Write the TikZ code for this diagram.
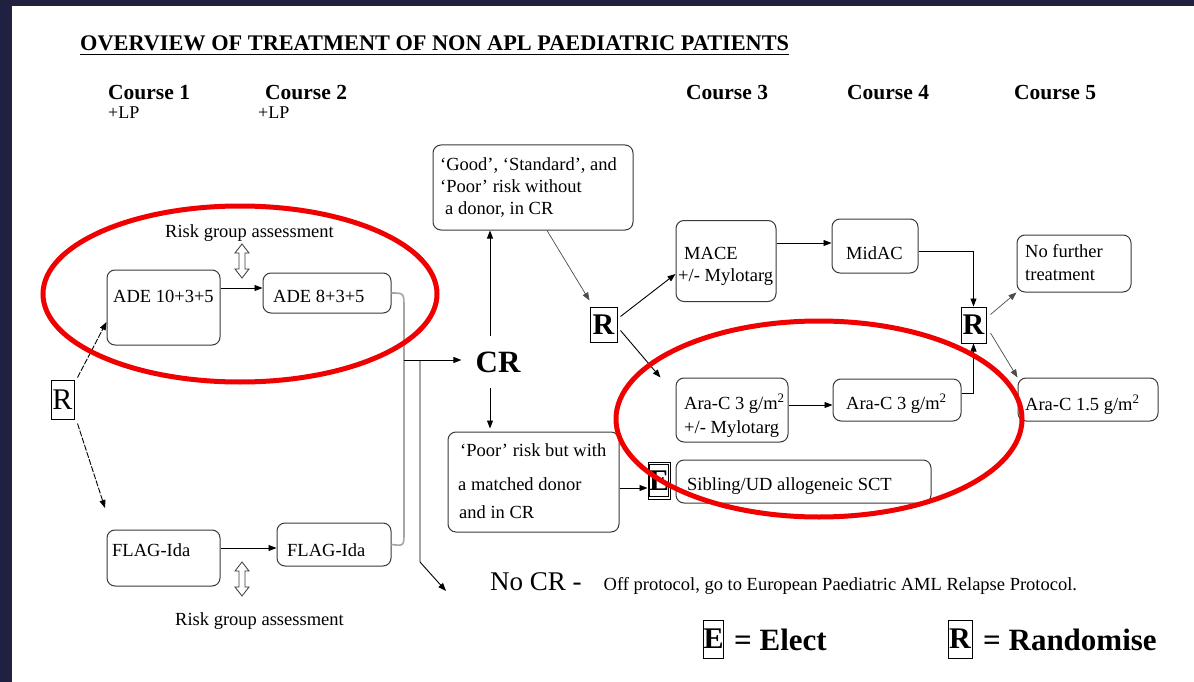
\documentclass[tikz,border=0pt]{standalone}
\usepackage{fontspec}
\setmainfont{Liberation Serif}
\usetikzlibrary{arrows.meta,calc}
\definecolor{navy}{HTML}{202040}
\definecolor{bxline}{HTML}{3A3A3A}
\definecolor{ringred}{HTML}{F00000}
\newcommand{\FS}[2]{\fontsize{#1}{#2}\selectfont}
\begin{document}
\begin{tikzpicture}[x=1pt,y=-1pt,
  box/.style={draw=bxline, line width=1pt, rounded corners=8pt, inner sep=0pt},
  txt/.style={anchor=base west, inner sep=0pt, font=\FS{18.5}{22}},
  crs/.style={anchor=base west, inner sep=0pt, font=\FS{21.5}{24}\bfseries},
  rb/.style={draw=black, line width=1pt, inner sep=0pt, font=\FS{30}{30}\bfseries},
  arr/.style={-{Triangle[length=8pt,width=6pt]}, line width=0.9pt, draw=black},
  thinarr/.style={-{Triangle[length=8pt,width=6pt]}, line width=0.7pt, draw=black!70},
  darr/.style={-{Triangle[length=8pt,width=6pt]}, line width=0.9pt, dash pattern=on 6pt off 1.5pt},
  ring/.style={draw=ringred, line width=5pt},
  dbl/.pic={\draw[draw=bxline, line width=0.8pt, fill=white] (0,-17) -- ++(7,9) -- ++(-4,0) -- ++(0,16) -- ++(4,0) -- ++(-7,9) -- ++(-7,-9) -- ++(4,0) -- ++(0,-16) -- ++(-4,0) -- cycle;}
]
\useasboundingbox (0,0) rectangle (1194,682);
\fill[navy] (0,0) rectangle (1194,682);
\fill[white] (12,6) rectangle (1194,682);

% title and headings
\node[anchor=base west, inner sep=0pt, font=\FS{22.3}{24}\bfseries] (title) at (80,51) {OVERVIEW OF TREATMENT OF NON APL PAEDIATRIC PATIENTS};
\draw[line width=1.8pt] ([yshift=-3.5pt]title.base west) -- ([yshift=-3.5pt]title.base east);
\node[crs] (c1) at (108,100) {Course 1};
\node[crs] (c2) at (265,100) {Course 2};
\node[crs] (c3) at (686,100) {Course 3};
\node[crs] (c4) at (847,100) {Course 4};
\node[crs] (c5) at (1014,100) {Course 5};
\node[txt, font=\FS{18}{20}] (lp1) at (108,119) {+LP};
\node[txt, font=\FS{18}{20}] (lp2) at (258,119) {+LP};

% boxes
\node[box, minimum width=113pt, minimum height=75pt] (ade1) at (163.5,307.5) {};
\node[box, minimum width=128pt, minimum height=40pt] (ade2) at (327,293) {};
\node[box, minimum width=113pt, minimum height=56pt] (flag1) at (163.5,558) {};
\node[box, minimum width=114pt, minimum height=43pt] (flag2) at (334,544.5) {};
\node[box, minimum width=200pt, minimum height=85pt] (good) at (533,187.5) {};
\node[box, minimum width=171pt, minimum height=100pt] (poor) at (533.5,482) {};
\node[box, minimum width=100pt, minimum height=81pt] (mace) at (726,261) {};
\node[box, minimum width=86pt, minimum height=54pt] (midac) at (875,246) {};
\node[box, minimum width=114pt, minimum height=57pt] (nofur) at (1074,263.5) {};
\node[box, minimum width=112pt, minimum height=64pt] (arac1) at (732,410) {};
\node[box, minimum width=128pt, minimum height=42pt] (arac2) at (897,400) {};
\node[box, minimum width=140pt, minimum height=43pt] (arac15) at (1088,399.5) {};
\node[box, minimum width=255pt, minimum height=43pt] (sib) at (803.5,481.5) {};

% box texts
\node[txt] (tade1) at (113,302) {ADE 10+3+5};
\node[txt] (tade2) at (273,302) {ADE 8+3+5};
\node[txt] (tflag1) at (112,556) {FLAG-Ida};
\node[txt] (tflag2) at (287,556) {FLAG-Ida};
\node[txt] (tg1) at (440,171) {`Good', `Standard', and};
\node[txt] (tg2) at (440,193) {`Poor' risk without};
\node[txt] (tg3) at (445,214) {a donor, in CR};
\node[txt] (tp1) at (460,456) {`Poor' risk but with};
\node[txt] (tp2) at (458,490) {a matched donor};
\node[txt] (tp3) at (459,518) {and in CR};
\node[txt] (tm1) at (684,259) {MACE};
\node[txt] (tm2) at (678,281) {+/- Mylotarg};
\node[txt] (tmid) at (846,259) {MidAC};
\node[txt] (tn1) at (1025,257) {No further};
\node[txt] (tn2) at (1025,280) {treatment};
\node[txt] (ta1) at (684,409) {Ara-C 3 g/m\textsuperscript{2}};
\node[txt] (ta1b) at (684,433) {+/- Mylotarg};
\node[txt] (ta2) at (846,409) {Ara-C 3 g/m\textsuperscript{2}};
\node[txt] (ta3) at (1025,410) {Ara-C 1.5 g/m\textsuperscript{2}};
\node[txt] (tsib) at (687,490) {Sibling/UD allogeneic SCT};
\node[txt] (risk1) at (165,237) {Risk group assessment};
\node[txt] (risk2) at (175,625) {Risk group assessment};

% R / E boxes
\node[rb, font=\FS{30}{30}, minimum width=23pt, minimum height=39pt] (rL) at (62.5,399.5) {R};
\node[rb, minimum width=27pt, minimum height=35pt] (rM) at (603.5,324.5) {R};
\node[rb, minimum width=25pt, minimum height=36pt] (rR) at (973.5,325) {R};
\node[rb, minimum width=22pt, minimum height=37pt] (eM) at (659,480.5) {E};
\draw[line width=0.8pt] ([xshift=2pt,yshift=-3pt]eM.north west) rectangle ([xshift=-2pt,yshift=3pt]eM.south east);

% CR
\node[anchor=center, inner xsep=14pt, inner ysep=15pt, font=\FS{31}{31}\bfseries] (cr) at (498,362) {CR};
\node[anchor=base west, inner sep=0pt] (nocr) at (490,590) {{\FS{27}{30}No CR -}\hspace{22pt}{\FS{18.5}{22}Off protocol, go to European Paediatric AML Relapse Protocol.}};

% legend
\node[rb, minimum width=20pt, minimum height=38pt] (lE) at (713.5,639) {E};
\node[anchor=base west, inner sep=0pt, font=\FS{31}{31}\bfseries] (lEt) at (734,650) {= Elect};
\node[rb, minimum width=24pt, minimum height=38pt] (lR) at (960,639) {R};
\node[anchor=base west, inner sep=0pt, font=\FS{31}{31}\bfseries] (lRt) at (983,650) {= Randomise};

% double arrows
\pic at (242,261) {dbl};
\pic at (242,579) {dbl};

% connectors
\coordinate (tipF) at (105,508);
\draw[darr] ([xshift=3pt,yshift=2pt]rL.north east) -- ([yshift=-14.5pt]ade1.west);
\draw[darr] ([xshift=3pt,yshift=-4pt]rL.south east) -- (tipF);
\draw[arr] ([yshift=5pt]ade2.west -| ade1.east) -- ([yshift=5pt]ade2.west);
\draw[arr] ([yshift=-3.5pt]flag2.west -| flag1.east) -- ([yshift=-3.5pt]flag2.west);
\coordinate (brk) at (404,360);
\draw[gray!70, line width=1.6pt] (ade2.east) .. controls (404,293) .. (404,308) -- (404,532) .. controls (404,546) .. (flag2.east);
\draw[arr] (brk) -- (brk -| cr.west);
\coordinate (ncA) at (420,360);
\coordinate (ncB) at (420,562);
\coordinate (ncT) at (446,591);
\draw[arr] (ncA) -- (ncB) -- (ncT);
\draw[arr] ([xshift=-8pt]cr.north) -- ([xshift=-8pt]cr.north |- good.south);
\draw[arr] ([xshift=-8pt]cr.south) -- ([xshift=-8pt,yshift=3pt]cr.south |- poor.north);
\draw[thinarr] ([xshift=14pt]good.south) -- ([yshift=6pt]rM.north west);
\draw[arr] ([xshift=3pt,yshift=8pt]rM.east) -- ([yshift=-13pt]mace.west);
\draw[arr] ([xshift=3pt,yshift=-6pt]rM.east) -- ([xshift=-15pt]arac1.north west);
\draw[arr] ([yshift=3pt]midac.west -| mace.east) -- ([yshift=3pt]midac.west);
\draw[arr] ([yshift=-5pt]midac.east) -| (rR.north);
\draw[arr] ([yshift=-5pt]arac2.west -| arac1.east) -- ([yshift=-5pt]arac2.west);
\draw[arr] ([yshift=7pt]arac2.east) -| (rR.south);
\draw[thinarr] ([xshift=4pt,yshift=-8pt]rR.north east) -- (nofur.south west);
\draw[thinarr] ([xshift=4pt,yshift=-8pt]rR.east) -- (arac15.north west);
\draw[arr] ([yshift=-6pt]poor.east) -- ([yshift=-6pt]poor.east -| eM.west);

% red rings
\draw[ring] (240,294) ellipse [x radius=197, y radius=88];
\draw[ring] (819,419) ellipse [x radius=203, y radius=98];
\end{tikzpicture}
\end{document}
